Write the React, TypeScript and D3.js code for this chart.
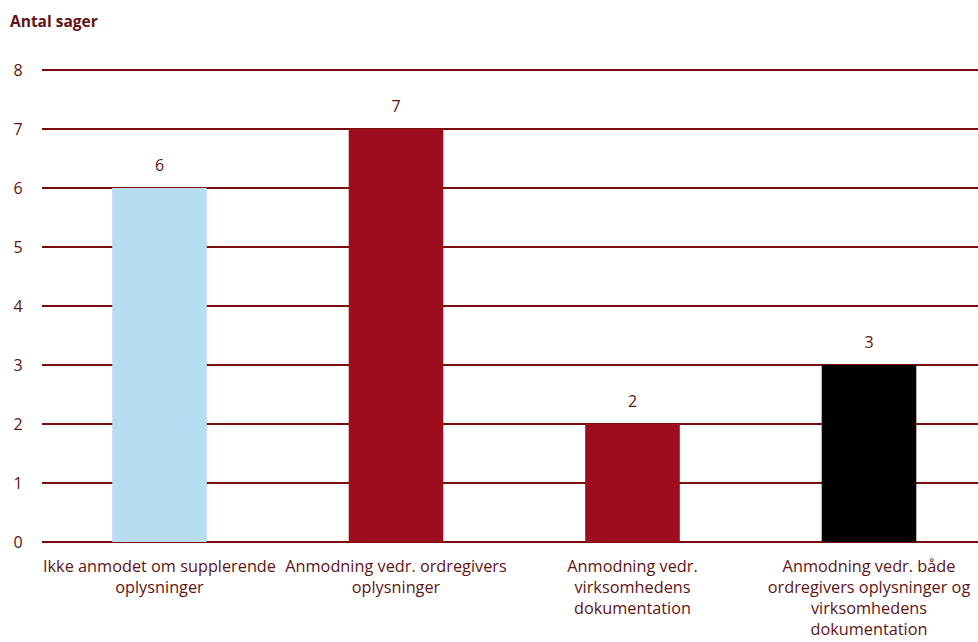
import React from "react";
import * as d3 from "d3";

const categories = [
  "Ikke anmodet om supplerende oplysninger",
  "Anmodning vedr. ordregivers oplysninger",
  "Anmodning vedr. virksomhedens dokumentation",
  "Anmodning vedr. både ordregivers oplysninger og virksomhedens dokumentation",
];
const categoryLines = [
  ["Ikke anmodet om supplerende", "oplysninger"],
  ["Anmodning vedr. ordregivers", "oplysninger"],
  ["Anmodning vedr.", "virksomhedens", "dokumentation"],
  ["Anmodning vedr. både", "ordregivers oplysninger og", "virksomhedens", "dokumentation"],
];
const values = [6, 7, 2, 3];
const barColors = ["#b7ddf2", "#9e0c1f", "#9e0c1f", "#000000"];
const yTicks = [0, 1, 2, 3, 4, 5, 6, 7, 8];
const yTitle = "Antal sager";

const W = 978;
const H = 642;
const FONT = "'Open Sans', sans-serif";
const TEXT = "#5e1414";
const GRID = "#7a0c0c";

export default function App() {
  const y = d3.scaleLinear().domain([0, 8]).range([542, 70]);
  const x = d3
    .scaleBand<string>()
    .domain(categories)
    .range([41.25, 987.25])
    .paddingInner(0.6)
    .paddingOuter(0.3);

  return (
    <svg
      width={W}
      height={H}
      style={{ position: "absolute", left: 0, top: 0, background: "#fff" }}
      fontFamily={FONT}
    >
      <text x={10} y={27} fontSize={15.5} fontWeight="bold" fill={TEXT}>
        {yTitle}
      </text>
      {yTicks.map((t) => (
        <g key={t}>
          <line x1={42} x2={W} y1={y(t)} y2={y(t)} stroke={GRID} strokeWidth={2} />
          <text x={18} y={y(t) + 5.5} fontSize={16} fill={TEXT} textAnchor="middle">
            {t}
          </text>
        </g>
      ))}
      {categories.map((c, i) => (
        <rect
          key={c}
          x={x(c)}
          y={y(values[i])}
          width={x.bandwidth()}
          height={y(0) - y(values[i])}
          fill={barColors[i]}
        />
      ))}
      {values.map((v, i) => (
        <text
          key={"v" + i}
          x={(x(categories[i]) as number) + x.bandwidth() / 2}
          y={y(v) - 17}
          fontSize={16}
          fill={TEXT}
          textAnchor="middle"
        >
          {v}
        </text>
      ))}
      {categoryLines.map((lines, i) => (
        <text
          key={"c" + i}
          fontSize={16.3}
          fill={TEXT}
          textAnchor="middle"
        >
          {lines.map((l, j) => (
            <tspan
              key={j}
              x={(x(categories[i]) as number) + x.bandwidth() / 2}
              y={571.5 + j * 21.3}
            >
              {l}
            </tspan>
          ))}
        </text>
      ))}
    </svg>
  );
}
